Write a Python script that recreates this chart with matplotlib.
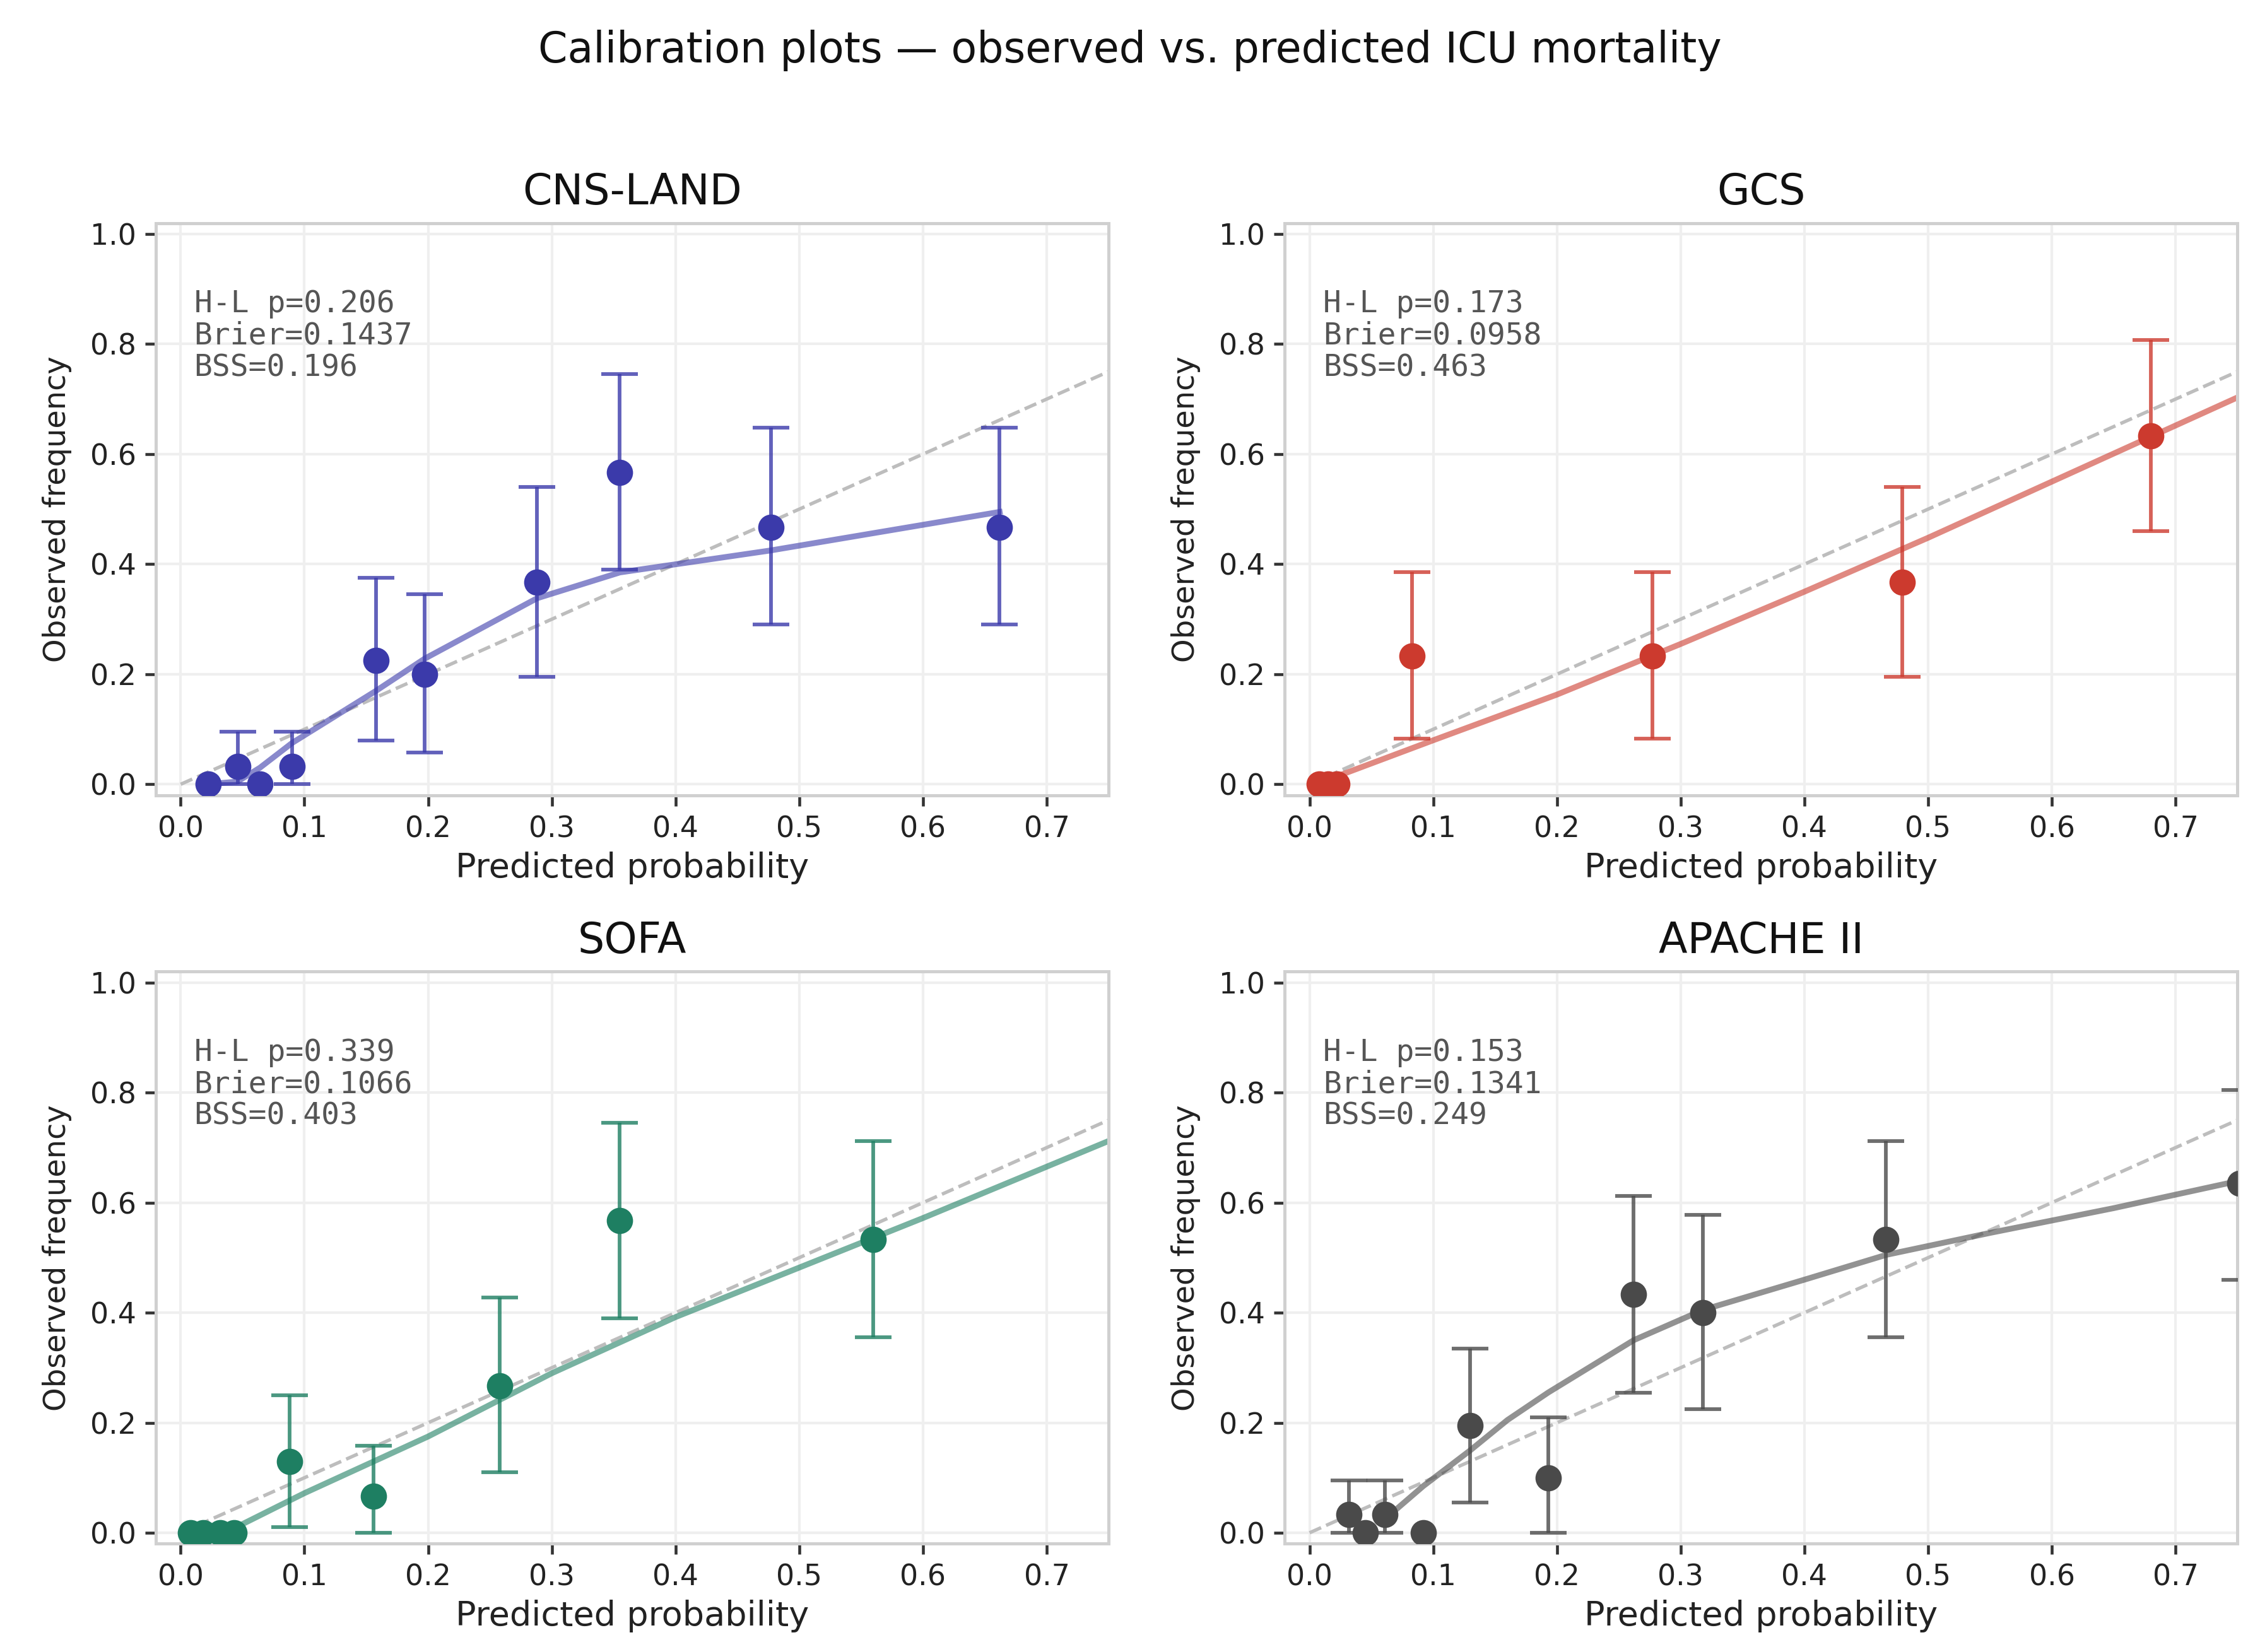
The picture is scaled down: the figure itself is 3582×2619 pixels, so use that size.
import matplotlib
matplotlib.use("Agg")
import matplotlib.pyplot as plt

# --- data ---
models = ["CNS-LAND", "GCS", "SOFA", "APACHE II"]
colors = ["#3b3aaa", "#cc3a2e", "#1e7f62", "#4a4a4a"]
stats = [
    "H-L p=0.206\nBrier=0.1437\nBSS=0.196",
    "H-L p=0.173\nBrier=0.0958\nBSS=0.463",
    "H-L p=0.339\nBrier=0.1066\nBSS=0.403",
    "H-L p=0.153\nBrier=0.1341\nBSS=0.249",
]

cns_x = [0.022, 0.046, 0.064, 0.090, 0.158, 0.197, 0.288, 0.355, 0.477, 0.662]
cns_y = [0.0, 0.032, 0.0, 0.032, 0.225, 0.200, 0.367, 0.567, 0.467, 0.467]
cns_lo = [0.0, 0.0, 0.0, 0.0, 0.080, 0.058, 0.195, 0.390, 0.290, 0.290]
cns_hi = [0.0, 0.095, 0.0, 0.095, 0.375, 0.345, 0.540, 0.745, 0.648, 0.648]
cns_fit_x = [0.022, 0.046, 0.064, 0.090, 0.158, 0.197, 0.288, 0.355, 0.477, 0.662]
cns_fit_y = [0.0, 0.005, 0.030, 0.075, 0.170, 0.228, 0.338, 0.385, 0.425, 0.495]

gcs_x = [0.008, 0.015, 0.022, 0.083, 0.277, 0.479, 0.680]
gcs_y = [0.0, 0.0, 0.0, 0.233, 0.233, 0.367, 0.633]
gcs_lo = [0.0, 0.0, 0.0, 0.083, 0.083, 0.195, 0.460]
gcs_hi = [0.0, 0.0, 0.0, 0.385, 0.385, 0.540, 0.808]
gcs_fit_x = [0.005, 0.1, 0.2, 0.3, 0.4, 0.5, 0.6, 0.7, 0.75]
gcs_fit_y = [0.0, 0.080, 0.163, 0.255, 0.350, 0.448, 0.550, 0.652, 0.703]

sofa_x = [0.008, 0.018, 0.032, 0.043, 0.088, 0.156, 0.258, 0.355, 0.560]
sofa_y = [0.0, 0.0, 0.0, 0.0, 0.130, 0.067, 0.267, 0.567, 0.533]
sofa_lo = [0.0, 0.0, 0.0, 0.0, 0.010, 0.0, 0.110, 0.390, 0.355]
sofa_hi = [0.0, 0.0, 0.0, 0.0, 0.250, 0.158, 0.428, 0.745, 0.712]
sofa_fit_x = [0.008, 0.043, 0.1, 0.2, 0.3, 0.4, 0.5, 0.6, 0.75]
sofa_fit_y = [0.0, 0.008, 0.072, 0.175, 0.290, 0.392, 0.482, 0.572, 0.712]

apa_x = [0.032, 0.045, 0.061, 0.092, 0.130, 0.193, 0.262, 0.318, 0.466, 0.752]
apa_y = [0.033, 0.0, 0.033, 0.0, 0.195, 0.100, 0.433, 0.400, 0.533, 0.635]
apa_lo = [0.0, 0.0, 0.0, 0.0, 0.055, 0.0, 0.255, 0.225, 0.355, 0.460]
apa_hi = [0.095, 0.0, 0.095, 0.0, 0.335, 0.210, 0.612, 0.578, 0.712, 0.805]
apa_fit_x = [0.061, 0.092, 0.130, 0.160, 0.193, 0.262, 0.318, 0.400, 0.466, 0.550, 0.650, 0.752]
apa_fit_y = [0.025, 0.085, 0.150, 0.205, 0.255, 0.350, 0.405, 0.460, 0.505, 0.545, 0.590, 0.640]

series = [
    (cns_x, cns_y, cns_lo, cns_hi, cns_fit_x, cns_fit_y),
    (gcs_x, gcs_y, gcs_lo, gcs_hi, gcs_fit_x, gcs_fit_y),
    (sofa_x, sofa_y, sofa_lo, sofa_hi, sofa_fit_x, sofa_fit_y),
    (apa_x, apa_y, apa_lo, apa_hi, apa_fit_x, apa_fit_y),
]

xticks = [0.0, 0.1, 0.2, 0.3, 0.4, 0.5, 0.6, 0.7]
yticks = [0.0, 0.2, 0.4, 0.6, 0.8, 1.0]

plt.rcParams["font.family"] = ["DejaVu Sans"]

fig, axes = plt.subplots(2, 2, figsize=(11.94, 8.73), dpi=300)
plt.subplots_adjust(left=0.069, right=0.990, top=0.865, bottom=0.0655,
                    wspace=0.185, hspace=0.308)

for ax, name, col, txt, (x, y, lo, hi, fx, fy) in zip(axes.flat, models, colors, stats, series):
    ax.set_facecolor("white")
    ax.grid(True, color="#efefef", linewidth=1.0)
    ax.set_axisbelow(True)
    for sp in ax.spines.values():
        sp.set_color("#d0d0d0")
        sp.set_linewidth(1.2)

    # perfect calibration
    ax.plot([0, 1], [0, 1], linestyle="--", color="#bdbdbd", linewidth=1.3, zorder=1)

    # smoothed fit
    ax.plot(fx, fy, color=col, linewidth=2.2, alpha=0.6, zorder=2)

    # observed with CI (bins with an empty interval get no bar)
    ex = [xx for xx, l, h in zip(x, lo, hi) if h > l]
    ey = [yy for yy, l, h in zip(y, lo, hi) if h > l]
    elo = [yy - l for yy, l, h in zip(y, lo, hi) if h > l]
    ehi = [h - yy for yy, l, h in zip(y, lo, hi) if h > l]
    ax.errorbar(ex, ey, yerr=[elo, ehi], fmt="none", ecolor=col, elinewidth=1.4,
                capsize=7, capthick=1.4, alpha=0.8, zorder=3)
    ax.plot(x, y, "o", color=col, markersize=9, zorder=4)

    ax.text(0.04, 0.885, txt, transform=ax.transAxes, va="top", ha="left",
            family="DejaVu Sans Mono", fontsize=11.5, color="#555555", linespacing=1.1)

    ax.set_xlim(-0.02, 0.75)
    ax.set_ylim(-0.02, 1.02)
    ax.set_xticks(xticks)
    ax.set_yticks(yticks)
    ax.tick_params(axis="both", labelsize=11, length=4, width=1.1, color="#333333",
                   labelcolor="#222222")
    ax.set_title(name, fontsize=16, pad=7, color="#111111")
    ax.set_xlabel("Predicted probability", fontsize=13, labelpad=3, color="#222222")
    ax.set_ylabel("Observed frequency", fontsize=11.5, labelpad=7, color="#222222")

fig.suptitle("Calibration plots \u2014 observed vs. predicted ICU mortality",
             fontsize=16, y=0.982, color="#111111")

fig.savefig("out.png", dpi=300)
